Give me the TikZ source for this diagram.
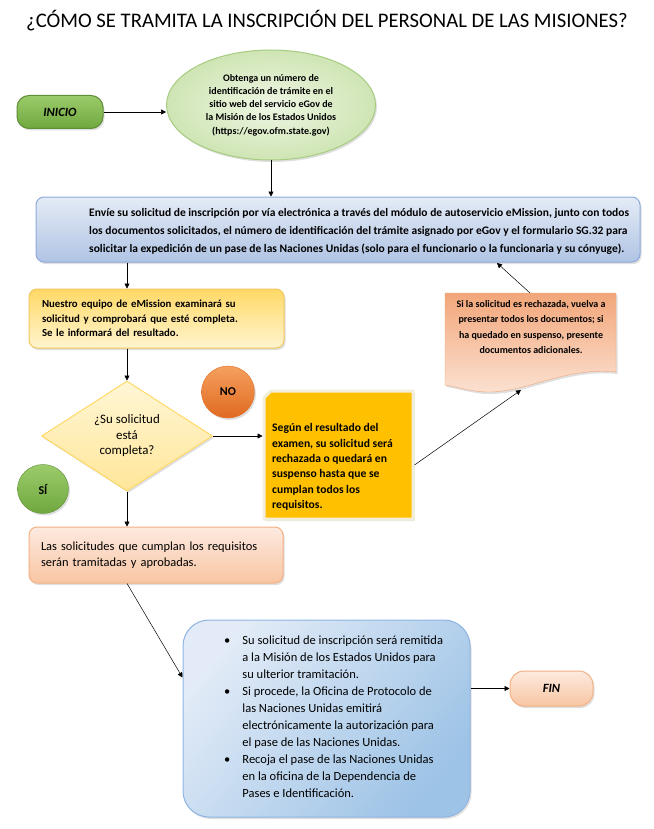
\documentclass[tikz,border=0pt]{standalone}
\usepackage{fontspec}
\setmainfont{Carlito}
\usetikzlibrary{arrows.meta,positioning,shadows,shapes.geometric,shapes.misc}

\definecolor{inicioA}{HTML}{9CCB6B}
\definecolor{inicioB}{HTML}{6FA83E}
\definecolor{inicioBorde}{HTML}{5E8E35}
\definecolor{elipseA}{HTML}{EEF6E4}
\definecolor{elipseB}{HTML}{CFE5B4}
\definecolor{elipseBorde}{HTML}{A6CC80}
\definecolor{azulA}{HTML}{E4EBF6}
\definecolor{azulB}{HTML}{B0C4E4}
\definecolor{azulBorde}{HTML}{8EAADB}
\definecolor{amarilloA}{HTML}{FFD966}
\definecolor{amarilloB}{HTML}{FFF4CF}
\definecolor{amarilloBorde}{HTML}{F0C75E}
\definecolor{romboA}{HTML}{FFF6D5}
\definecolor{romboB}{HTML}{FFE699}
\definecolor{noA}{HTML}{F5A05E}
\definecolor{noB}{HTML}{E06A20}
\definecolor{oro}{HTML}{FFC000}
\definecolor{marco}{HTML}{F3EEDC}
\definecolor{docA}{HTML}{F2A679}
\definecolor{docB}{HTML}{FCE4D6}
\definecolor{duraznoA}{HTML}{FDEADF}
\definecolor{duraznoB}{HTML}{F8C5A3}
\definecolor{duraznoBorde}{HTML}{F4B183}
\definecolor{azulGrandeA}{HTML}{E2EBF7}
\definecolor{azulGrandeB}{HTML}{9DC3E6}
\definecolor{azulGrandeBorde}{HTML}{8EB4E3}

\tikzset{
  flecha/.style={-{Triangle[length=5pt,width=5pt]}, line width=0.5pt},
  sombra/.style={drop shadow={opacity=0.25, shadow xshift=1.5pt, shadow yshift=-2pt}},
  caja/.style={rectangle, rounded corners=8pt, line width=1pt, sombra},
  negrita/.style={font=\bfseries\fontsize{10.8}{14.5}\selectfont},
  etiqueta/.style={font=\bfseries\fontsize{12}{14}\selectfont},
}

\begin{document}
\begin{tikzpicture}[x=1pt, y=-1pt]
  \useasboundingbox (0,0) rectangle (653,829);

  \node (titulo) at (327,21) {\fontsize{20.7}{24}\selectfont ¿CÓMO SE TRAMITA LA INSCRIPCIÓN DEL PERSONAL DE LAS MISIONES?};

  % inicio y primer paso
  \node[caja, rounded corners=12pt, draw=inicioBorde, top color=inicioA, bottom color=inicioB,
        minimum width=86pt, minimum height=33pt,
        font=\bfseries\itshape\fontsize{12.6}{14}\selectfont] (inicio) at (60,112) {INICIO};
  \node[ellipse, draw=elipseBorde, line width=1pt, inner color=elipseA, outer color=elipseB, sombra,
        minimum width=209pt, minimum height=110pt, align=center,
        font=\bfseries\fontsize{10}{13.3}\selectfont] (obtener) at (271,105)
        {Obtenga un número de\\identificación de trámite en el\\sitio web del servicio eGov de\\la Misión de los Estados Unidos\\(https://egov.ofm.state.gov)};

  \node[caja, draw=azulBorde, top color=azulA, bottom color=azulB,
        minimum width=604pt, minimum height=65pt] (envio) at (338,229.5) {};
  \node[anchor=west, align=left, inner sep=0pt, font=\bfseries\fontsize{11.5}{18}\selectfont] (envioTexto) at (89,231)
        {Envíe su solicitud de inscripción por vía electrónica a través del módulo de autoservicio eMission, junto con todos\\los documentos solicitados, el número de identificación del trámite asignado por eGov y el formulario SG.32 para\\solicitar la expedición de un pase de las Naciones Unidas (solo para el funcionario o la funcionaria y su cónyuge).};

  % revision
  \node[caja, draw=amarilloBorde, top color=amarilloA, bottom color=amarilloB,
        minimum width=255pt, minimum height=59pt, text width=229pt, align=left, negrita] (revision) at (156.5,318.5)
        {Nuestro equipo de eMission examinará su\\solicitud y comprobará que esté completa.\\Se le informará del resultado.};

  \node[diamond, draw=amarilloA, line width=1pt, top color=romboA, bottom color=romboB, sombra,
        minimum width=171pt, minimum height=110pt, inner sep=0pt, align=center,
        font=\fontsize{12.9}{15.5}\selectfont] (completa) at (127,436) {¿Su solicitud\\está\\completa?};

  \node[ellipse, draw=noB, top color=noA, bottom color=noB, sombra, minimum width=53pt, minimum height=52pt,
        etiqueta] (no) at (228,392) {NO};
  \node[ellipse, draw=inicioBorde, top color=inicioA, bottom color=inicioB, sombra, minimum width=51pt, minimum height=49pt,
        etiqueta] (si) at (43,489) {SÍ};

  % rama rechazada
  \node[chamfered rectangle, chamfered rectangle corners=north west, chamfered rectangle xsep=17pt,
        chamfered rectangle ysep=21pt, fill=oro, draw=marco, line width=3pt, sombra,
        minimum width=149pt, minimum height=128pt] (nota) at (338.5,455) {};
  \node[anchor=west, align=left, inner sep=0pt, font=\bfseries\fontsize{11.6}{15.3}\selectfont] (notaTexto) at (272,467)
        {Según el resultado del\\examen, su solicitud será\\rechazada o quedará en\\suspenso hasta que se\\cumplan todos los\\requisitos.};

  \draw[draw=docA, top color=docA, bottom color=docB, sombra]
    (445,293) -- (616,293) -- (616,372) .. controls (560,366) and (520,398) .. (475,391)
    .. controls (462,389) and (452,386) .. (445,385) -- cycle;
  \node[align=center, inner sep=0pt, font=\bfseries\fontsize{10}{15.3}\selectfont] (rechazo) at (531,327)
        {Si la solicitud es rechazada, vuelva a\\presentar todos los documentos; si\\ha quedado en suspenso, presente\\documentos adicionales.};
  \coordinate (docArriba) at (530,293);
  \coordinate (docAbajo) at (521,390);
  \coordinate (retorno) at (497,263);
  \coordinate (notaSalida) at ([yshift=-10pt]nota.east);

  % rama aprobada
  \node[caja, draw=duraznoBorde, top color=duraznoA, bottom color=duraznoB,
        minimum width=254pt, minimum height=56pt, text width=230pt, align=left,
        font=\fontsize{12.4}{16}\selectfont] (aprobadas) at (156,555)
        {Las solicitudes que cumplan los requisitos\\serán tramitadas y aprobadas.};

  \node[caja, rounded corners=26pt, draw=azulGrandeBorde, top color=azulGrandeA, bottom color=azulGrandeB,
        shading angle=50, minimum width=287pt, minimum height=197pt] (remision) at (326.5,718.5) {};
  \node[anchor=west, inner sep=0pt, font=\fontsize{12.5}{17}\selectfont] (remisionTexto) at (224,718)
        {\begin{tabular}{@{}l@{\hspace{12pt}}l@{}}
          \textbullet & Su solicitud de inscripción será remitida\\
                      & a la Misión de los Estados Unidos para\\
                      & su ulterior tramitación.\\
          \textbullet & Si procede, la Oficina de Protocolo de\\
                      & las Naciones Unidas emitirá\\
                      & electrónicamente la autorización para\\
                      & el pase de las Naciones Unidas.\\
          \textbullet & Recoja el pase de las Naciones Unidas\\
                      & en la oficina de la Dependencia de\\
                      & Pases e Identificación.
        \end{tabular}};
  \coordinate (remisionEntrada) at ([yshift=41pt]remision.west);

  \node[caja, rounded corners=14pt, draw=duraznoBorde, top color=duraznoA, bottom color=duraznoB,
        minimum width=83pt, minimum height=35pt,
        font=\bfseries\itshape\fontsize{12.6}{14}\selectfont] (fin) at (551.5,688.5) {FIN};

  \foreach \Source/\Target in {%
      inicio.east/inicio.east -| obtener.west,
      obtener.south/obtener.south |- envio.north,
      completa |- envio.south/completa |- revision.north,
      completa |- revision.south/completa.north,
      completa.east/completa.east -| nota.west,
      completa.south/completa |- aprobadas.north,
      notaSalida/docAbajo,
      docArriba/retorno,
      completa |- aprobadas.south/remisionEntrada,
      fin.west -| remision.east/fin.west%
      }
      \draw[flecha] (\Source) -- (\Target);
\end{tikzpicture}
\end{document}
